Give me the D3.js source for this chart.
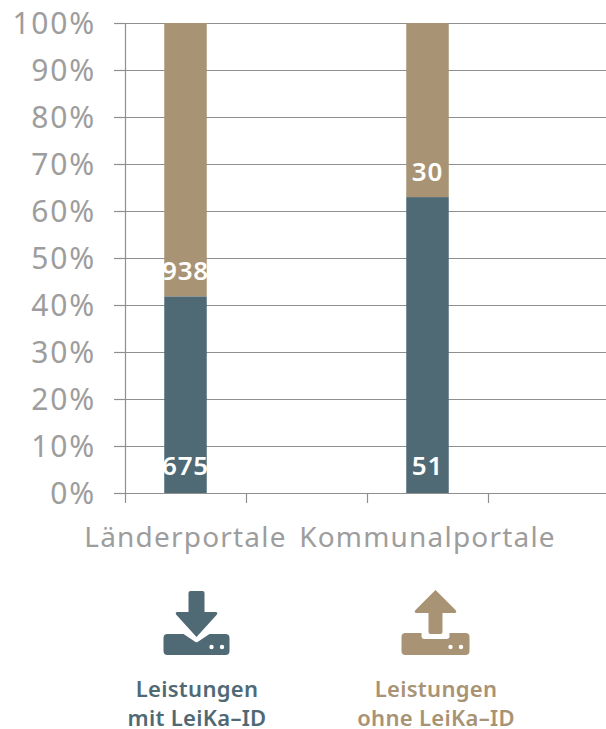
<!DOCTYPE html>
<html><head><meta charset="utf-8">
<script src="https://cdn.jsdelivr.net/npm/d3@7/dist/d3.min.js"></script>
<style>html,body{margin:0;background:#fff;overflow:hidden}svg{display:block}text{font-family:"Noto Sans",sans-serif}</style>
</head><body><svg id="c" width="606" height="729"></svg>
<script>
const categories=["Länderportale","","Kommunalportale"," "];
const seriesNames=["Leistungen mit LeiKa-ID","Leistungen ohne LeiKa-ID"];
const mitLeika=[675,null,51,null];
const ohneLeika=[938,null,30,null];
const yTicks=[0,10,20,30,40,50,60,70,80,90,100];
const legendLines=[["Leistungen","mit LeiKa–ID"],["Leistungen","ohne LeiKa–ID"]];
const colors=["#4f6a75","#a89375"];
const svg=d3.select("#c");
const x=d3.scaleBand().domain(categories).range([125,609]);
const y=d3.scaleLinear().domain([0,100]).range([493,23]);
const grey="#9d9d9d",lineC="#8f8f8f";
const gy=svg.append("g").attr("transform","translate(125,0)").call(d3.axisLeft(y).tickValues(yTicks).tickFormat(d=>d+"%").tickSize(11).tickPadding(18));
gy.selectAll(".tick line").attr("stroke",lineC).attr("stroke-width",1.2);
gy.select(".domain").remove();
gy.selectAll("text").attr("fill",grey).attr("font-size",30).attr("dy","0.35em").attr("letter-spacing",1.8);
svg.append("g").selectAll("line").data(yTicks).join("line").attr("x1",125).attr("x2",606).attr("y1",d=>y(d)+.5).attr("y2",d=>y(d)+.5).attr("stroke",lineC).attr("stroke-width",1.2);
svg.append("line").attr("x1",125.5).attr("x2",125.5).attr("y1",y(100)).attr("y2",y(0)).attr("stroke",lineC).attr("stroke-width",1.2);
const edges=categories.map(c=>x(c));
svg.append("g").selectAll("line").data(edges).join("line").attr("x1",d=>d+.5).attr("x2",d=>d+.5).attr("y1",y(0)).attr("y2",y(0)+10).attr("stroke",lineC).attr("stroke-width",1.2);
const bw=42.5;
categories.forEach((c,i)=>{
  if(mitLeika[i]==null)return;
  const tot=mitLeika[i]+ohneLeika[i];
  const share=mitLeika[i]/tot*100;
  const cx=x(c)+x.bandwidth()/2;
  svg.append("rect").attr("x",cx-bw/2).attr("width",bw).attr("y",y(share)).attr("height",y(0)-y(share)).attr("fill",colors[0]);
  svg.append("rect").attr("x",cx-bw/2).attr("width",bw).attr("y",y(100)).attr("height",y(share)-y(100)).attr("fill",colors[1]);
  const lab={"text-anchor":"middle","dominant-baseline":"central","fill":"#fff","font-size":26,"font-weight":600,"letter-spacing":.8};
  const a=svg.append("text").attr("x",cx).attr("y",y(0)-28).text(mitLeika[i]);
  const b=svg.append("text").attr("x",cx).attr("y",y(share)-26).text(ohneLeika[i]);
  for(const k in lab){a.attr(k,lab[k]);b.attr(k,lab[k]);}
  svg.append("text").attr("x",cx).attr("y",536).attr("text-anchor","middle").attr("dominant-baseline","central").attr("fill",grey).attr("font-size",28).attr("letter-spacing",1.2).text(c);
});
const legendX=[196.5,435.5];
legendX.forEach((cx,i)=>{
  const g=svg.append("g").attr("transform",`translate(${cx},590)`);
  if(i==0){
    g.append("path").attr("d","M-8 3Q-8 1 -6 1H6Q8 1 8 3V22H19Q22 22 20 25L0 47L-20 25Q-22 22 -19 22H-8Z").attr("fill",colors[0]);
    g.append("path").attr("d","M-33 48Q-33 44 -29 44H-13L-1 52Q0 52.5 1 52L13 44H29Q33 44 33 48V61Q33 65 29 65H-29Q-33 65 -33 61Z").attr("fill",colors[0]);
  } else {
    g.append("path").attr("d","M0 0L20 20Q22 23 19 23H7V42Q7 44 5 44H-5Q-7 44 -7 42V23H-19Q-22 23 -20 20Z").attr("fill",colors[1]);
    g.append("path").attr("d","M-34 47Q-34 43 -30 43H-14V46Q-14 49 -11 49H11Q14 49 14 46V43H30Q34 43 34 47V61Q34 65 30 65H-30Q-34 65 -34 61Z").attr("fill",colors[1]);
  }
  [15,25.5].forEach(o=>g.append("circle").attr("cx",o).attr("cy",57).attr("r",2.2).attr("fill","#fff"));
  legendLines[i].forEach((t,j)=>svg.append("text").attr("x",cx+.5).attr("y",688+j*29).attr("text-anchor","middle").attr("dominant-baseline","central").attr("fill",colors[i]).attr("font-size",22).attr("font-weight",600).attr("letter-spacing",.3).text(t));
});
</script></body></html>
